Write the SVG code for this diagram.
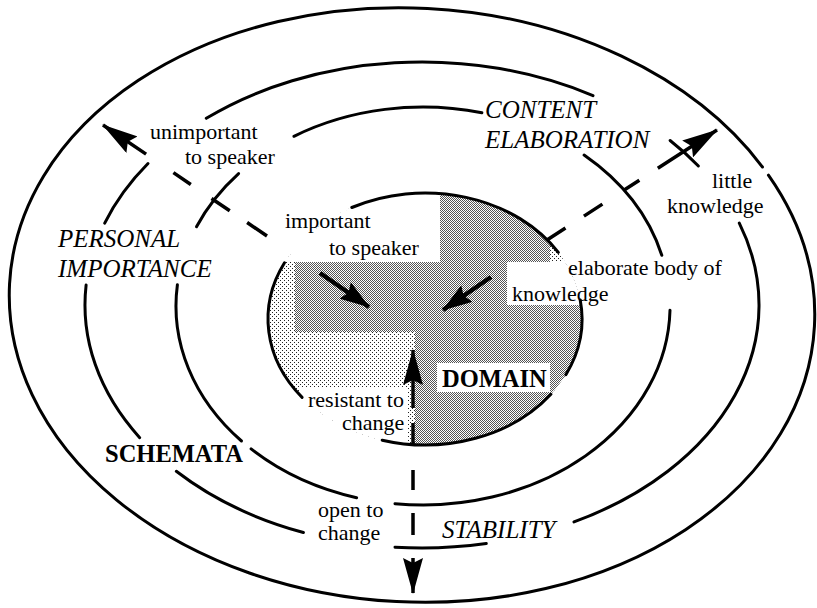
<svg xmlns="http://www.w3.org/2000/svg" width="817" height="608" viewBox="0 0 817 608">
<style>
.ln{fill:none;stroke:#000;stroke-width:3;stroke-linecap:round}
.t{font-family:"Liberation Serif","Times New Roman",serif;font-size:22px;fill:#000}
.it{font-style:italic;font-size:25px}
.bd{font-weight:bold;font-size:24.5px}
.dash{fill:none;stroke:#000;stroke-width:3.5}
.solid{fill:none;stroke:#000;stroke-width:4.5}
</style>
<defs>
<pattern id="lt" width="4" height="4" patternUnits="userSpaceOnUse"><rect width="4" height="4" fill="#fff"/><rect width="1" height="1" fill="#222"/><rect x="2" y="2" width="1" height="1" fill="#222"/></pattern>
<pattern id="dk" width="2" height="2" patternUnits="userSpaceOnUse"><rect width="2" height="2" fill="#fff"/><rect width="1" height="1" fill="#555"/><rect x="1" y="1" width="1" height="1" fill="#555"/></pattern>
<clipPath id="dclip"><ellipse cx="425" cy="319" rx="157" ry="126"/></clipPath>
<marker id="ah" markerUnits="userSpaceOnUse" markerWidth="36" markerHeight="20" viewBox="0 0 36 20" refX="35" refY="10" orient="auto-start-reverse"><path d="M0,0 L36,10 L0,20 L5,10 z" fill="#000"/></marker>
<marker id="sh" markerUnits="userSpaceOnUse" markerWidth="30" markerHeight="20" viewBox="0 0 30 20" refX="29" refY="10" orient="auto"><path d="M0,0 L30,10 L0,20 L4,10 z" fill="#000"/></marker>
</defs>
<rect width="817" height="608" fill="#fff"/>

<g id="outer-boundary">
<ellipse class="ln" cx="412" cy="305" rx="403" ry="297" transform="rotate(3 412 305)" stroke-dasharray="2040 10 300"/>
</g>

<g id="domain">
<ellipse cx="425" cy="319" rx="157" ry="126" fill="url(#lt)"/>
<g clip-path="url(#dclip)">
<rect x="440" y="190" width="110" height="72" fill="url(#dk)"/>
<rect x="295" y="262" width="300" height="70" fill="url(#dk)"/>
<rect x="415" y="330" width="170" height="120" fill="url(#dk)"/>
<rect x="260" y="185" width="180" height="77" fill="#fff"/>
<rect x="507" y="262" width="90" height="43" fill="#fff"/>
<rect x="437" y="363" width="113" height="29" fill="#fff"/>
<rect x="300" y="388" width="107" height="60" fill="#fff"/>
</g>
<path class="ln" d="M351.8,207.5 A157,126 0 0 1 558.3,252.4"/>
<path class="ln" d="M580.2,299.9 A157,126 0 0 1 565.9,374.6"/>
<path class="ln" d="M550.9,394.3 A157,126 0 0 1 382.2,440.2"/>
<path class="ln" d="M302.1,397.4 A157,126 0 0 1 284.5,262.8"/>
<text class="t bd" x="442" y="387">DOMAIN</text>
</g>

<g id="schemata-inner-ring">
<path class="ln" d="M356.6,497.7 A247,199 0 0 1 251.1,448.9"/>
<path class="ln" d="M241.5,441 A247,199 0 0 1 177.4,284.8"/>
<path class="ln" d="M196.5,226.7 A247,199 0 0 1 238.6,173.6"/>
<path class="ln" d="M293.9,136.3 A247,199 0 0 1 481.9,112.8"/>
<path class="ln" d="M584.1,155.1 A247,199 0 0 1 661.8,255.2"/>
<path class="ln" d="M670,310.2 A247,199 0 0 1 395,503.7"/>
</g>

<g id="schemata-outer-ring">
<path class="ln" d="M104.7,223.1 A337,243 0 0 1 148,163.5"/>
<path class="ln" d="M206.3,118.3 A337,243 0 0 1 593,95.6"/>
<path class="ln" d="M670.1,140.5 A337,243 0 0 1 698.4,166"/>
<path class="ln" d="M739.3,223.1 A337,243 0 0 1 574,521.9"/>
<path class="ln" d="M486.3,543.5 A337,243 0 0 1 395,547.2"/>
<path class="ln" d="M303.4,532.5 A337,243 0 0 1 176.3,471.3"/>
<path class="ln" d="M139.7,437.7 A337,243 0 0 1 86.1,285.1"/>
<text class="t bd" x="105" y="462">SCHEMATA</text>
</g>

<g id="personal-importance">
<text class="t it" x="58" y="247">PERSONAL</text>
<text class="t it" x="58" y="277">IMPORTANCE</text>
</g>
<g id="content-elaboration">
<text class="t it" x="485" y="118">CONTENT</text>
<text class="t it" x="485" y="148">ELABORATION</text>
</g>
<g id="stability">
<text class="t it" x="442" y="538">STABILITY</text>
</g>

<g id="connectors">
<path class="dash" d="M267,236 L103,125" stroke-dasharray="24 21 22 25 21 33 80" marker-end="url(#ah)"/>
<path class="dash" d="M547,240 L717,130" stroke-dasharray="22 22 22 25 19 22 80" marker-end="url(#ah)"/>
<path class="dash" d="M413,350 L413,593" stroke-dasharray="58 15 23 24 20 23 22 23 60" marker-start="url(#ah)" marker-end="url(#ah)"/>
<path class="solid" d="M320,273 L369,307" marker-end="url(#sh)"/>
<path class="solid" d="M491,277 L443,310" marker-end="url(#sh)"/>
</g>

<g id="arrow-labels">
<text class="t" x="150" y="139">unimportant</text>
<text class="t" x="185" y="164">to speaker</text>
<text class="t" x="285" y="228">important</text>
<text class="t" x="329" y="255">to speaker</text>
<text class="t" x="712" y="188">little</text>
<text class="t" x="667" y="213">knowledge</text>
<text class="t" x="568" y="275">elaborate body of</text>
<text class="t" x="512" y="301">knowledge</text>
<text class="t" x="308" y="407">resistant to</text>
<text class="t" x="342" y="430">change</text>
<text class="t" x="318" y="517">open to</text>
<text class="t" x="318" y="540">change</text>
</g>
</svg>
